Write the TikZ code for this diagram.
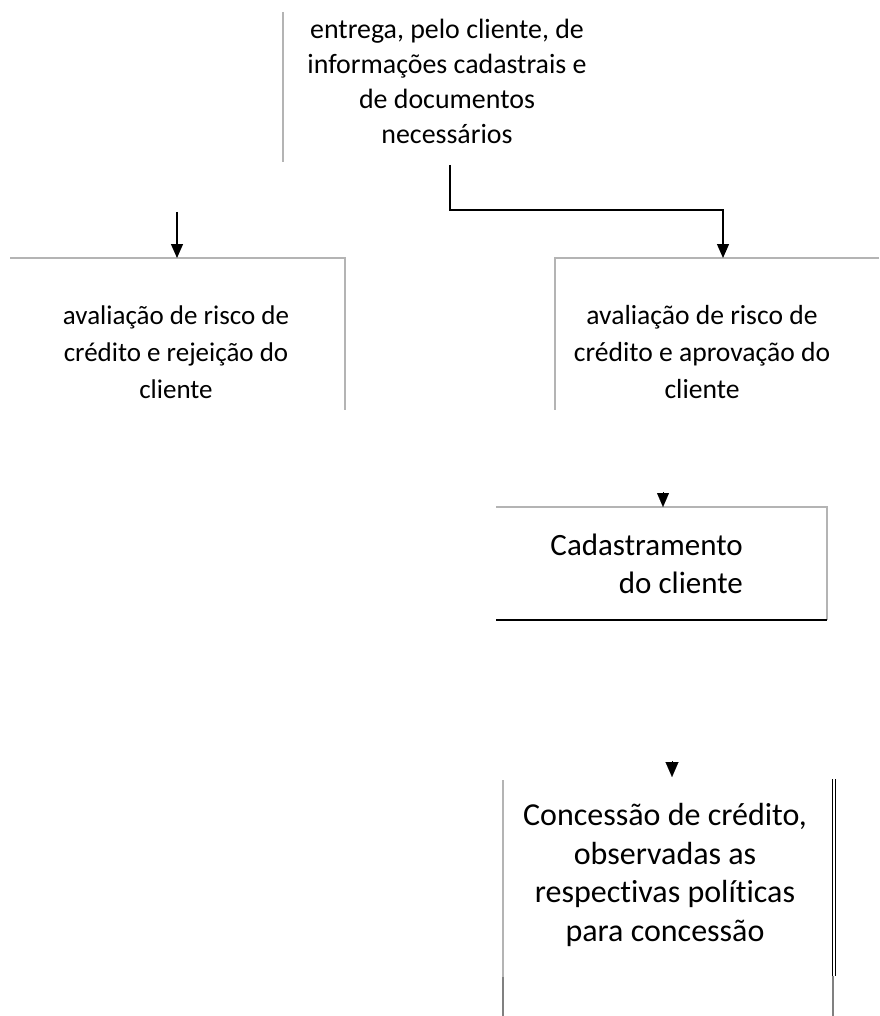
\documentclass[tikz,border=0pt]{standalone}
\usepackage{fontspec}
\setmainfont{Carlito}[Ligatures=NoCommon]
\usetikzlibrary{arrows.meta}
\definecolor{edgegray}{RGB}{180,180,180}
\begin{document}
\begin{tikzpicture}[x=1pt,y=-1pt,
  txt/.style={inner sep=0pt,align=center,text=black},
  edge/.style={draw=edgegray,line width=1.2pt},
  dark/.style={draw=black,line width=1.3pt},
  arr/.style={draw=black,line width=1.3pt,-{Triangle[length=14pt,width=12pt]}},
  tip/.style={draw=black,line width=0.1pt,-{Triangle[length=14pt,width=12pt]}}]
\useasboundingbox (0,0) rectangle (879,1016);
% top block
\node[txt,font=\fontsize{27.9}{35}\selectfont] (top) at (447,81) {entrega, pelo cliente, de\\informações cadastrais e\\de documentos\\necessários};
\draw[edge] (283,12) -- (283,162);
% left box
\node[txt,font=\fontsize{27}{37}\selectfont] (left) at (176,352) {avaliação de risco de\\crédito e rejeição do\\cliente};
\draw[edge] (10,258) -- (345,258) -- (345,410);
% right box
\node[txt,font=\fontsize{27.6}{37}\selectfont] (right) at (702,352) {avaliação de risco de\\crédito e aprovação do\\cliente};
\draw[edge] (879,258) -- (555,258) -- (555,410);
% cadastramento
\node[txt,font=\fontsize{31}{38}\selectfont,align=right,anchor=east] (cad) at (743,564) {Cadastramento\\do cliente};
\draw[edge] (496,507) -- (827,507) -- (827,620);
\draw[dark] (496,620) -- (827,620);
% concessao
\node[txt,font=\fontsize{32}{38.5}\selectfont] (conc) at (665,875) {Concessão de crédito,\\observadas as\\respectivas políticas\\para concessão};
\draw[edge] (503,780) -- (503,977);
\draw[draw=gray,line width=1.5pt] (503,977) -- (503,1016);
\draw[draw=black,line width=1pt] (832.5,779) -- (832.5,976);
\draw[draw=black,line width=1pt] (835.5,779) -- (835.5,976);
\draw[draw=gray,line width=1.2pt] (833,976) -- (833,1016);
% connectors
\coordinate (t1) at (450,165);
\coordinate (r1) at (723,258);
\draw[arr] (t1) -- (450,210) -| (r1);
\coordinate (l0) at (177,212);
\coordinate (l1) at (177,258);
\draw[arr] (l0) -- (l1);
\coordinate (c0) at (663,492);
\coordinate (c1) at (663,507);
\draw[tip] (c0) -- (c1);
\coordinate (k0) at (672,761);
\coordinate (k1) at (672,777);
\draw[tip,-{Triangle[length=15pt,width=13pt]}] (k0) -- (k1);
\end{tikzpicture}
\end{document}
